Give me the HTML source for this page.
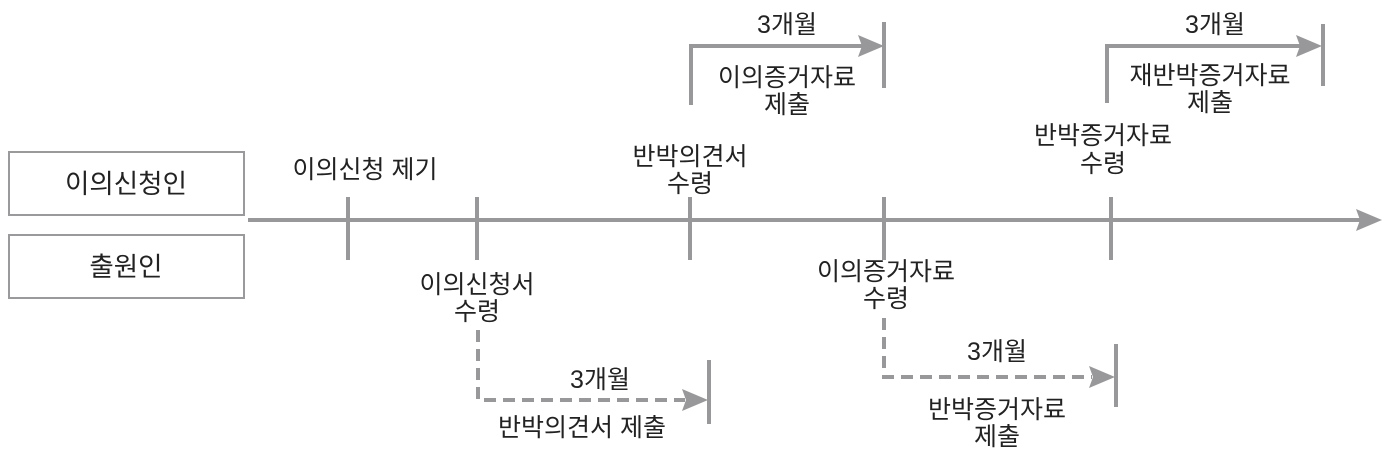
<!DOCTYPE html>
<html><head><meta charset="utf-8"><style>
html,body{margin:0;padding:0;background:#fff;}
svg{display:block;}
text{font-family:"Liberation Sans","Noto Sans CJK KR",sans-serif;font-size:25px;fill:#222;text-anchor:middle;}
</style></head><body>
<svg width="1390" height="461" viewBox="0 0 1390 461">
<g fill="none" stroke="#9a9a9c" stroke-width="2">
<rect x="9" y="152" width="235" height="63"/>
<rect x="9" y="235" width="235" height="63"/>
</g>
<g stroke="#98989a" stroke-width="4" fill="none">
<line x1="248" y1="220" x2="1362" y2="220"/>
<line x1="348" y1="197" x2="348" y2="260"/>
<line x1="477" y1="197" x2="477" y2="260"/>
<line x1="690" y1="197" x2="690" y2="260"/>
<line x1="884" y1="197" x2="884" y2="260"/>
<line x1="1111" y1="197" x2="1111" y2="260"/>
<polyline points="691,105 691,46 862,46"/>
<line x1="884" y1="22" x2="884" y2="88"/>
<polyline points="1107,103 1107,46 1300,46"/>
<line x1="1323" y1="24" x2="1323" y2="86"/>
<line x1="709" y1="360" x2="709" y2="424"/>
<line x1="1116" y1="344" x2="1116" y2="407"/>
<g stroke-dasharray="12,7">
<polyline points="478,330 478,400 685,400"/>
<polyline points="884,318 884,377 1092,377"/>
</g>
</g>
<g fill="#98989a">
<polygon points="1382,220 1356,209 1360,220 1356,231"/>
<polygon points="884,46 858,35 862,46 858,57"/>
<polygon points="1322,46 1296,35 1300,46 1296,57"/>
<polygon points="708,400 682,389 686,400 682,411"/>
<polygon points="1115,377 1089,366 1093,377 1089,388"/>
</g>
<text x="126" y="193" style="font-size:26.5px">이의신청인</text>
<text x="126" y="276" style="font-size:26.5px">출원인</text>
<text x="365" y="178">이의신청 제기</text>
<text x="690" y="165">반박의견서</text>
<text x="690" y="192">수령</text>
<text x="1103" y="144">반박증거자료</text>
<text x="1103" y="172">수령</text>
<text x="787" y="33">3개월</text>
<text x="787" y="86">이의증거자료</text>
<text x="787" y="113">제출</text>
<text x="1215" y="33">3개월</text>
<text x="1210" y="84">재반박증거자료</text>
<text x="1210" y="111">제출</text>
<text x="477" y="293">이의신청서</text>
<text x="477" y="320">수령</text>
<text x="600" y="388">3개월</text>
<text x="582" y="436">반박의견서 제출</text>
<text x="886" y="280">이의증거자료</text>
<text x="886" y="307">수령</text>
<text x="997" y="360">3개월</text>
<text x="997" y="418">반박증거자료</text>
<text x="997" y="445">제출</text>
</svg>
</body></html>
